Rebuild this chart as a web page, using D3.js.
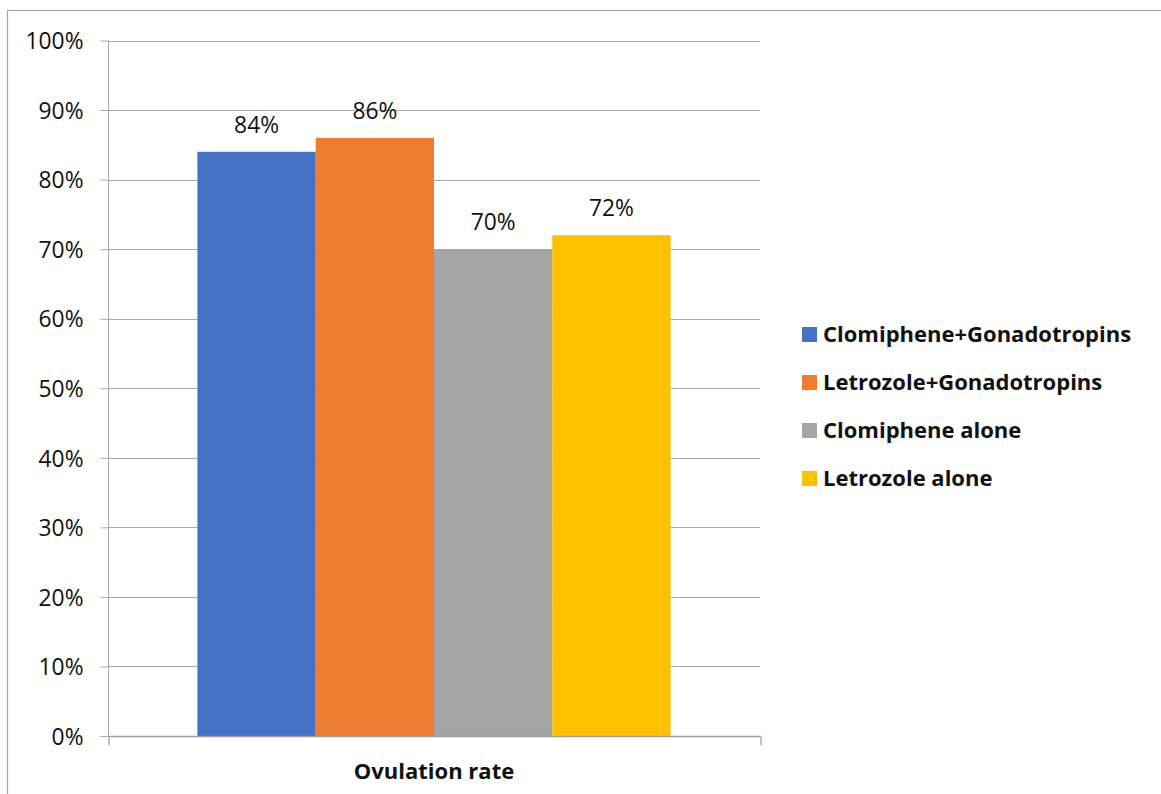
<!DOCTYPE html>
<html>
<head>
<meta charset="utf-8">
<script src="https://cdn.jsdelivr.net/npm/d3@7"></script>
<style>
  html, body { margin: 0; padding: 0; background: #fff; }
  svg { display: block; }
  text { font-family: "Open Sans", "Noto Sans", sans-serif; fill: #111; }
</style>
</head>
<body>
<svg id="chart" width="1161" height="794"></svg>
<script>
// Ovulation rate by treatment group
const categories = ["Ovulation rate"];
const seriesNames = ["Clomiphene+Gonadotropins", "Letrozole+Gonadotropins", "Clomiphene alone", "Letrozole alone"];
const seriesValues = [0.84, 0.86, 0.70, 0.72];
const seriesColors = ["#4472C4", "#ED7D31", "#A5A5A5", "#FFC000"];
const yTicks = [0, 0.1, 0.2, 0.3, 0.4, 0.5, 0.6, 0.7, 0.8, 0.9, 1.0];

const labelSize = "22.8px";
const boldSize = "22px";

const svg = d3.select("#chart");

// outer chart frame
svg.append("rect")
  .attr("x", 7.5).attr("y", 10.5)
  .attr("width", 1170).attr("height", 800)
  .attr("fill", "none").attr("stroke", "#a6a6a6").attr("stroke-width", 1.2);

const plot = { left: 108, right: 760, top: 40.5, bottom: 736 };

const y = d3.scaleLinear().domain([0, 1]).range([plot.bottom, plot.top]);
const x0 = d3.scaleBand().domain(categories).range([plot.left, plot.right])
  .paddingInner(0).paddingOuter(0.189);
const x1 = d3.scaleBand().domain(seriesNames).range([0, x0.bandwidth()]).padding(0);

// gridlines
svg.append("g").selectAll("line").data(yTicks.slice(1)).join("line")
  .attr("x1", plot.left).attr("x2", plot.right)
  .attr("y1", d => Math.round(y(d)) + 0.5).attr("y2", d => Math.round(y(d)) + 0.5)
  .attr("stroke", "#a9a9a9").attr("stroke-width", 1);

// bars
const groups = svg.append("g").selectAll("g").data(categories).join("g")
  .attr("transform", d => `translate(${x0(d)},0)`);

groups.selectAll("rect").data(() => seriesNames.map((s, i) => ({ s, v: seriesValues[i], c: seriesColors[i] })))
  .join("rect")
  .attr("x", d => x1(d.s))
  .attr("width", x1.bandwidth())
  .attr("y", d => y(d.v))
  .attr("height", d => y(0) - y(d.v))
  .attr("fill", d => d.c);

// value labels
groups.selectAll("text").data(() => seriesNames.map((s, i) => ({ s, v: seriesValues[i] })))
  .join("text")
  .attr("x", d => x1(d.s) + x1.bandwidth() / 2)
  .attr("y", d => y(d.v) - 19)
  .attr("text-anchor", "middle")
  .style("font-size", labelSize)
  .text(d => d3.format(".0%")(d.v));

// y axis
const yAxis = d3.axisLeft(y).tickValues(yTicks).tickFormat(d3.format(".0%")).tickSize(8).tickPadding(17);
const gy = svg.append("g").attr("transform", `translate(${plot.left + 0.5},0)`).call(yAxis);
gy.select(".domain").attr("stroke", "#a9a9a9").attr("d", `M0,${plot.top}V${plot.bottom}`);
gy.selectAll(".tick line").attr("stroke", "#a9a9a9");
gy.selectAll(".tick text").style("font-size", labelSize).attr("fill", "#111").attr("dy", "0.36em");

// x axis
const xAxis = d3.axisBottom(d3.scaleLinear().domain([0, 1]).range([plot.left, plot.right]))
  .tickValues([0, 1]).tickSize(9).tickFormat("");
const gx = svg.append("g").attr("transform", `translate(0.5,${Math.round(plot.bottom) + 0.5})`).call(xAxis);
gx.select(".domain").attr("stroke", "#a0a0a0").attr("stroke-width", 1.3).attr("d", `M${plot.left},0H${plot.right}`);
gx.selectAll(".tick line").attr("stroke", "#a0a0a0").attr("stroke-width", 1.3);

// category label
svg.append("text")
  .attr("x", x0(categories[0]) + x0.bandwidth() / 2)
  .attr("y", 779)
  .attr("text-anchor", "middle")
  .style("font-size", boldSize).style("font-weight", "bold")
  .text(categories[0]);

// legend
const legend = svg.append("g").selectAll("g").data(seriesNames).join("g")
  .attr("transform", (d, i) => `translate(802,${334.5 + i * 48})`);
legend.append("rect")
  .attr("x", 0).attr("y", -7.5).attr("width", 15).attr("height", 15)
  .attr("fill", (d, i) => seriesColors[i]);
legend.append("text")
  .attr("x", 21).attr("y", 7.5)
  .style("font-size", boldSize).style("font-weight", "bold")
  .text(d => d);
</script>
</body>
</html>
